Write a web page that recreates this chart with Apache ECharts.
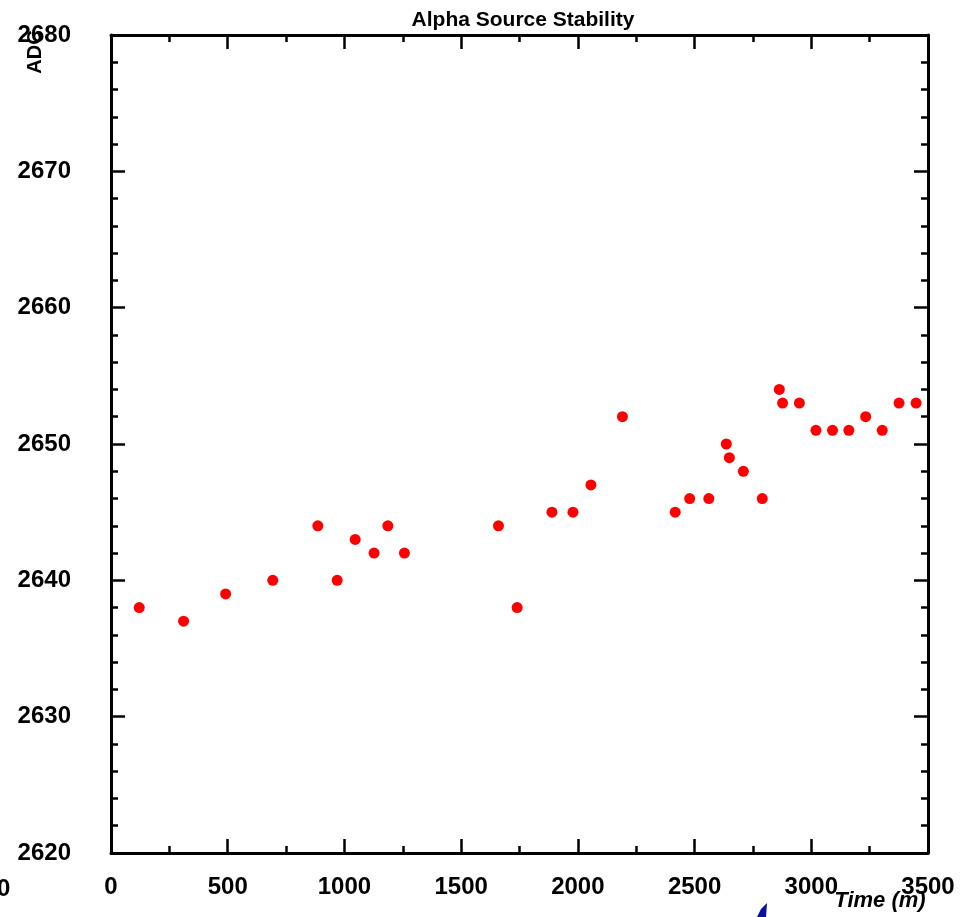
<!DOCTYPE html>
<html>
<head>
<meta charset="utf-8">
<script src="https://cdn.jsdelivr.net/npm/echarts@6/dist/echarts.min.js"></script>
<style>html,body{margin:0;padding:0;background:#fff;}#c{width:972px;height:917px;}</style>
</head>
<body>
<div id="c"></div>
<script>
var titleText = "Alpha Source Stability";
var xName = "Time (m)";
var yName = "ADC";
var timeMin = [121, 311, 491, 693, 886, 969, 1046, 1127, 1186, 1257, 1660, 1740, 1889, 1979, 2056, 2191, 2417, 2479, 2561, 2636, 2649, 2709, 2790, 2863, 2877, 2949, 3020, 3091, 3161, 3233, 3304, 3376, 3449];
var adcValues = [2638, 2637, 2639, 2640, 2644, 2640, 2643, 2642, 2644, 2642, 2644, 2638, 2645, 2645, 2647, 2652, 2645, 2646, 2646, 2650, 2649, 2648, 2646, 2654, 2653, 2653, 2651, 2651, 2651, 2652, 2651, 2653, 2653];

var points = timeMin.map(function (t, i) { return [t, adcValues[i]]; });
var font = "Liberation Sans";
function ax(opts) {
  return {
    type: 'value',
    min: opts.min, max: opts.max, interval: opts.interval, position: opts.position,
    axisLine: { show: true, onZero: false, lineStyle: { color: '#000', width: 3 } },
    axisTick: { show: true, inside: true, length: 14, lineStyle: { color: '#000', width: 2.5 } },
    minorTick: { show: true, splitNumber: opts.minor, length: 7, lineStyle: { color: '#000', width: 2.5 } },
    splitLine: { show: false },
    axisLabel: opts.label ? {
      show: true, inside: false, margin: opts.margin, color: '#000', fontFamily: font, fontWeight: 'bold', fontSize: 24,
      formatter: function (v) { return String(v); }
    } : { show: false }
  };
}

var chart = echarts.init(document.getElementById('c'));
chart.setOption({
  animation: false,
  backgroundColor: '#fff',
  title: {
    text: titleText, left: 518, top: 5, textAlign: 'center',
    textStyle: { fontFamily: font, fontWeight: 'bold', fontSize: 21, color: '#000' }
  },
  grid: { left: 111, right: 44, top: 35, bottom: 64 },
  xAxis: [
    ax({ min: 0, max: 3500, interval: 500, position: 'bottom', minor: 2, label: true, margin: 22 }),
    ax({ min: 0, max: 3500, interval: 500, position: 'top', minor: 2, label: false })
  ],
  yAxis: [
    ax({ min: 2620, max: 2680, interval: 10, position: 'left', minor: 5, label: true, margin: 40 }),
    ax({ min: 2620, max: 2680, interval: 10, position: 'right', minor: 5, label: false })
  ],
  graphic: [
    { type: 'text', x: 35, y: 52, rotation: Math.PI / 2, style: { text: yName, x: 0, y: 0, align: 'center', verticalAlign: 'middle', font: 'bold 20px "Liberation Sans"', fill: '#000' } },
    { type: 'text', x: 880, y: 901, style: { text: xName, align: 'center', verticalAlign: 'middle', font: 'italic bold 22px "Liberation Sans"', fill: '#000' } },
    { type: 'text', x: -3, y: 889, style: { text: '0', align: 'left', verticalAlign: 'middle', font: 'bold 24px "Liberation Sans"', fill: '#000' } },
    { type: 'polygon', shape: { points: [[757, 917], [761, 909], [767, 903], [766, 917]] }, style: { fill: '#0a10a0' } }
  ],
  series: [{
    type: 'scatter', xAxisIndex: 0, yAxisIndex: 0,
    data: points, symbol: 'circle', symbolSize: 11,
    itemStyle: { color: '#ff0000', opacity: 1 }
  }]
});
</script>
</body>
</html>
